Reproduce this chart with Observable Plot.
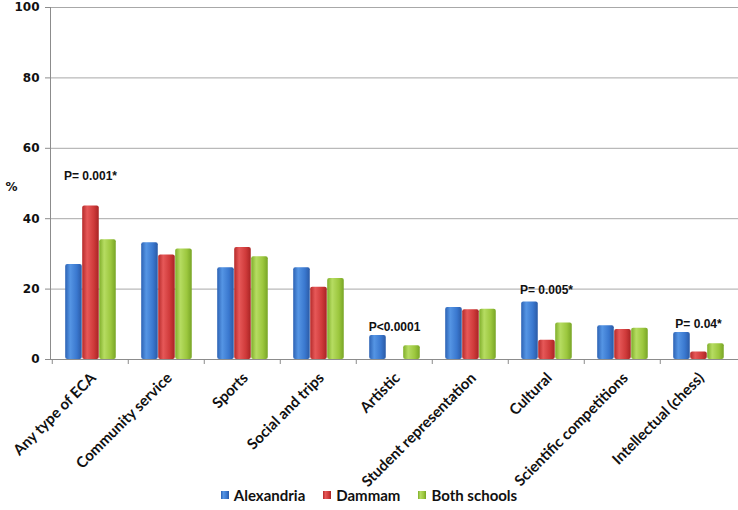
<!DOCTYPE html>
<html>
<head>
<meta charset="utf-8">
<script src="https://cdn.jsdelivr.net/npm/d3@7"></script>
<script src="https://cdn.jsdelivr.net/npm/@observablehq/plot@0.6"></script>
<style>
  html, body { margin: 0; padding: 0; background: #fff; }
  #chart svg { display: block; }
  #legend { display: flex; justify-content: center; align-items: center; height: 24px; margin-top: -9px;
    position: relative;
    font-family: Lato, "Open Sans", sans-serif; font-weight: bold; font-size: 15px; color: #111; }
  #legend .item { display: flex; align-items: center; margin: 0 9px; }
  #legend .sw { width: 8px; height: 8px; margin-right: 5px; }
</style>
</head>
<body>
<div id="chart"></div>
<div id="legend"></div>
<script>
const categories = ["Any type of ECA", "Community service", "Sports", "Social and trips", "Artistic",
  "Student representation", "Cultural", "Scientific competitions", "Intellectual (chess)"];
const alexandria = [27.0, 33.2, 26.1, 26.1, 6.8, 14.8, 16.3, 9.6, 7.7];
const dammam = [43.6, 29.7, 31.8, 20.5, 0, 14.1, 5.5, 8.5, 2.1];
const bothSchools = [34.0, 31.4, 29.2, 23.0, 3.9, 14.3, 10.4, 8.9, 4.5];
const seriesNames = ["Alexandria", "Dammam", "Both schools"];
const yTicks = [0, 20, 40, 60, 80, 100];
const annoCategories = ["Any type of ECA", "Artistic", "Cultural", "Intellectual (chess)"];
const annoLabels = ["P= 0.001*", "P<0.0001", "P= 0.005*", "P= 0.04*"];
const annoY = [52.1, 9.1, 19.6, 9.9];

const gradients = [
  {id: "gBlue", stops: ["#2c62b4", "#5595e4", "#3a78cf", "#2a5aa6"]},
  {id: "gRed", stops: ["#b52a2a", "#e65858", "#cf3a3a", "#a82424"]},
  {id: "gGreen", stops: ["#7fae2a", "#b6dc62", "#9cc73e", "#78a526"]}
];

const rows = (vals) => categories.map((c, i) => ({category: c, value: vals[i]}));
const annos = annoCategories.map((c, i) => ({category: c, label: annoLabels[i], y: annoY[i]}));

const W = 738, H = 492, ML = 50, MR = 0, MT = 7, MB = 133;
const band = (W - ML - MR) / categories.length;
const barW = 17;
const off0 = 13.2;

function defsMark() {
  const ns = "http://www.w3.org/2000/svg";
  const defs = document.createElementNS(ns, "defs");
  for (const g of gradients) {
    const lg = document.createElementNS(ns, "linearGradient");
    lg.setAttribute("id", g.id);
    lg.setAttribute("x1", "0"); lg.setAttribute("x2", "1");
    lg.setAttribute("y1", "0"); lg.setAttribute("y2", "0");
    const offs = [0, 0.3, 0.7, 1];
    g.stops.forEach((s, i) => {
      const st = document.createElementNS(ns, "stop");
      st.setAttribute("offset", offs[i]);
      st.setAttribute("stop-color", s);
      lg.appendChild(st);
    });
    defs.appendChild(lg);
  }
  return defs;
}

function barsFor(vals, k, fillId) {
  const left = off0 + k * barW;
  return Plot.barY(rows(vals), {
    x: "category", y: "value", fill: `url(#${fillId})`,
    insetLeft: left, insetRight: band - left - barW, rx: 2
  });
}

const chart = Plot.plot({
  width: W, height: H,
  marginLeft: ML, marginRight: MR, marginTop: MT, marginBottom: MB,
  x: {domain: categories, padding: 0, label: null},
  y: {domain: [0, 100], label: null},
  style: {background: "transparent"},
  marks: [
    defsMark,
    Plot.gridY(yTicks, {stroke: "#a8a8a8", strokeOpacity: 1}),
    Plot.frame({anchor: "left", stroke: "#8c8c8c"}),
    Plot.ruleY([0], {stroke: "#8c8c8c"}),
    Plot.ruleX(categories, {x: d => d, y1: 0, y2: 0, dx: -band / 2, insetBottom: -5, stroke: "#8c8c8c"}),
    Plot.axisY(yTicks, {tickSize: 5, tickPadding: 6, stroke: "#8c8c8c", fontSize: 12, fontWeight: "bold",
      fontFamily: "DejaVu Sans", fill: "#111"}),
    Plot.axisX({tickSize: 0, tickPadding: 16, tickRotate: -45, fontSize: 15, fontWeight: "bold",
      fontFamily: "Lato", fill: "#111", dx: 3}),
    barsFor(alexandria, 0, "gBlue"),
    barsFor(dammam, 1, "gRed"),
    barsFor(bothSchools, 2, "gGreen"),
    Plot.text(annos, {x: "category", y: "y", text: "label", fontSize: 12, fontWeight: "bold",
      fontFamily: "Liberation Sans", fill: "#111"}),
    Plot.text(["%"], {frameAnchor: "left", dx: -45, y: [49], fontSize: 12, fontWeight: "bold",
      fontFamily: "DejaVu Sans", fill: "#111", textAnchor: "start"})
  ]
});
document.getElementById("chart").appendChild(chart);

const legend = document.getElementById("legend");
seriesNames.forEach((name, i) => {
  const item = document.createElement("div");
  item.className = "item";
  const sw = document.createElement("div");
  sw.className = "sw";
  const s = gradients[i].stops;
  sw.style.background = `linear-gradient(to right, ${s[0]}, ${s[1]} 30%, ${s[2]} 70%, ${s[3]})`;
  const t = document.createElement("span");
  t.textContent = name;
  item.appendChild(sw); item.appendChild(t);
  legend.appendChild(item);
});
</script>
</body>
</html>
